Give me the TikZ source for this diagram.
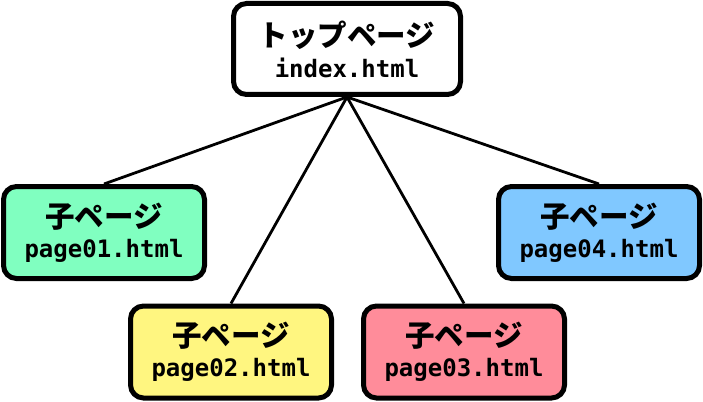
\documentclass[tikz,border=0pt]{standalone}
\usepackage{fontspec}
\newfontfamily\jpfont{Noto Sans CJK JP}
\newfontfamily\monofont{DejaVu Sans Mono}
\usepackage{tikz}

\definecolor{pagegreen}{RGB}{128,255,192}
\definecolor{pageyellow}{RGB}{255,246,128}
\definecolor{pagepink}{RGB}{255,140,154}
\definecolor{pageblue}{RGB}{128,200,255}

\newcommand{\pagelabel}[2]{{\jpfont\bfseries\fontsize{29.5}{30}\selectfont #1}\\[7.5pt]{\monofont\bfseries\fontsize{24}{30}\selectfont #2}}

\begin{document}
\begin{tikzpicture}[
			x=1pt,y=-1pt,
			box/.style={draw=black,line width=5pt,rounded corners=13pt,align=center,inner sep=0pt},
			toppage/.style={box,fill=white,minimum width=227pt,minimum height=91pt},
			childpage/.style={box,minimum width=201pt,minimum height=92pt},
			link/.style={draw=black,line width=2.8pt}]
			\useasboundingbox (0,0) rectangle (703,401);
			\node[toppage] (top) at (347,49) {\pagelabel{トップページ}{index.html}};
			\node[childpage,fill=pagegreen] (c1) at (104,232.5) {\pagelabel{子ページ}{page01.html}};
			\node[childpage,fill=pageyellow] (c2) at (231,352) {\pagelabel{子ページ}{page02.html}};
			\node[childpage,fill=pagepink] (c3) at (464,352) {\pagelabel{子ページ}{page03.html}};
			\node[childpage,fill=pageblue] (c4) at (599,232.5) {\pagelabel{子ページ}{page04.html}};
			\foreach \c in {c1,c2,c3,c4}
			\draw[link] (top.south) -- (\c.north);
		\end{tikzpicture}
\end{document}
